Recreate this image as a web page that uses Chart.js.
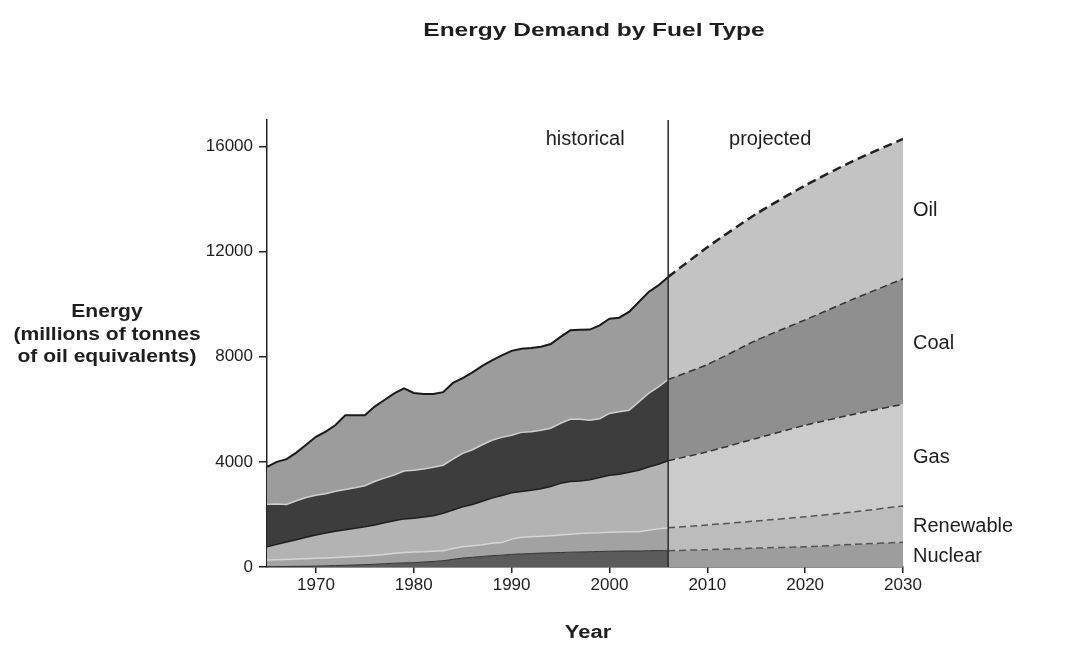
<!DOCTYPE html>
<html>
<head>
<meta charset="utf-8">
<title>Energy Demand by Fuel Type</title>
<script src="https://cdn.jsdelivr.net/npm/chart.js@4.4.1/dist/chart.umd.min.js"></script>
<style>
  body { margin: 0; background: #fff; }
  #chart-container { width: 1083px; height: 646px; }
</style>
</head>
<body>
<div id="chart-container"><canvas id="energy" width="1083" height="646"></canvas></div>
<script>
// values, millions of tonnes of oil equivalent
const fuels = ["Nuclear", "Renewable", "Gas", "Coal", "Oil"];

const histYears = [1965, 1966, 1967, 1968, 1969, 1970, 1971, 1972, 1973, 1974,
  1975, 1976, 1977, 1978, 1979, 1980, 1981, 1982, 1983, 1984,
  1985, 1986, 1987, 1988, 1989, 1990, 1991, 1992, 1993, 1994,
  1995, 1996, 1997, 1998, 1999, 2000, 2001, 2002, 2003, 2004,
  2005, 2006];
const histNuclear = [10, 15, 20, 25, 30, 35, 45, 55, 65, 75,
  90, 105, 125, 145, 155, 165, 190, 210, 240, 290,
  340, 370, 400, 430, 450, 480, 500, 510, 530, 540,
  550, 565, 570, 580, 590, 600, 605, 610, 605, 620,
  625, 620];
const histRenewable = [255, 260, 265, 275, 285, 295, 300, 305, 315, 325,
  330, 345, 355, 375, 395, 405, 390, 390, 380, 410,
  430, 440, 450, 470, 480, 580, 630, 640, 640, 650,
  670, 685, 700, 710, 710, 720, 725, 730, 735, 780,
  825, 870];
const histGas = [505, 585, 665, 740, 815, 885, 945, 1000, 1040, 1070,
  1110, 1150, 1200, 1240, 1280, 1280, 1320, 1350, 1420, 1470,
  1520, 1570, 1650, 1720, 1790, 1760, 1740, 1770, 1810, 1870,
  1960, 2000, 2000, 2030, 2100, 2170, 2200, 2260, 2340, 2400,
  2460, 2550];
const histCoal = [1620, 1540, 1430, 1480, 1510, 1515, 1500, 1520, 1530, 1540,
  1560, 1650, 1700, 1740, 1820, 1830, 1830, 1840, 1830, 1930,
  2030, 2080, 2150, 2200, 2210, 2190, 2250, 2220, 2220, 2220,
  2280, 2370, 2350, 2260, 2240, 2350, 2370, 2360, 2600, 2800,
  2940, 3090];
const histOil = [1420, 1600, 1720, 1830, 2010, 2220, 2360, 2520, 2820, 2760,
  2680, 2850, 2970, 3100, 3140, 2940, 2850, 2790, 2780, 2900,
  2860, 2940, 3000, 3040, 3120, 3210, 3180, 3190, 3180, 3200,
  3290, 3380, 3400, 3450, 3550, 3600, 3580, 3740, 3800, 3860,
  3860, 3900];

const projYears = [2006, 2010, 2015, 2020, 2025, 2030];
const projNuclear = [620, 660, 720, 770, 860, 940];
const projRenewable = [870, 940, 1030, 1140, 1240, 1380];
const projGas = [2550, 2780, 3140, 3480, 3710, 3870];
const projCoal = [3090, 3320, 3730, 4010, 4390, 4770];
const projOil = [3900, 4460, 4810, 5110, 5260, 5320];

const splitYear = 2006;
const xTicks = [1970, 1980, 1990, 2000, 2010, 2020, 2030];
const yTicks = [0, 4000, 8000, 12000, 16000];

const histLayers = [histNuclear, histRenewable, histGas, histCoal, histOil];
const projLayers = [projNuclear, projRenewable, projGas, projCoal, projOil];

const histFill = ["#5b5b5b", "#a2a2a2", "#b3b3b3", "#3d3d3d", "#9c9c9c"];
const histLine = ["#333333", "#d5d5d5", "#1e1e1e", "#d0d0d0", "#1a1a1a"];
const histWidth = [1, 1.5, 1.5, 1.5, 2];
const projFill = ["#9d9d9d", "#bcbcbc", "#cbcbcb", "#8f8f8f", "#c3c3c3"];
const projLine = ["#555555", "#555555", "#333333", "#333333", "#222222"];
const projWidth = [1.5, 1.5, 1.5, 1.5, 2.5];

const FONT = "'Liberation Sans', Arial, Helvetica, sans-serif";

function toPoints(years, values) {
  return years.map((yr, i) => ({ x: yr, y: values[i] }));
}

// the bold lettering in the picture runs wider than Arial, so stretch it a bit
function wideText(ctx, text, x, y, font, sx) {
  ctx.save();
  ctx.font = font;
  ctx.translate(x, y);
  ctx.scale(sx, 1);
  ctx.fillText(text, 0, 0);
  ctx.restore();
}

const datasets = [];
histLayers.forEach((layer, i) => {
  datasets.push({
    label: fuels[i] + " (historical)",
    stack: "hist",
    data: toPoints(histYears, layer),
    backgroundColor: histFill[i],
    borderColor: histLine[i],
    borderWidth: histWidth[i],
    fill: i === 0 ? "origin" : "-1",
    pointRadius: 0,
    tension: 0,
  });
});
projLayers.forEach((layer, i) => {
  datasets.push({
    label: fuels[i] + " (projected)",
    stack: "proj",
    data: toPoints(projYears, layer),
    backgroundColor: projFill[i],
    borderColor: projLine[i],
    borderWidth: projWidth[i],
    borderDash: i === 4 ? [9, 5] : [7, 4],
    fill: i === 0 ? "origin" : "-1",
    pointRadius: 0,
    tension: 0.2,
  });
});

// text and the 2006 divider
const decorations = {
  id: "decorations",
  afterDatasetsDraw(chart) {
    const { ctx, chartArea, scales } = chart;
    const x = scales.x;
    const y = scales.y;
    ctx.save();

    const xd = x.getPixelForValue(splitYear);
    ctx.strokeStyle = "#2a2a2a";
    ctx.lineWidth = 1.5;
    ctx.beginPath();
    ctx.moveTo(xd, chartArea.top);
    ctx.lineTo(xd, chartArea.bottom);
    ctx.stroke();

    ctx.fillStyle = "#1e1e1e";
    ctx.textBaseline = "middle";
    ctx.textAlign = "center";
    ctx.font = "20px " + FONT;
    ctx.fillText("historical", xd - 83, chartArea.top + 19);
    ctx.fillText("projected", xd + 102, chartArea.top + 19);

    // fuel names beside the last column
    ctx.textAlign = "left";
    const last = projYears.length - 1;
    let base = 0;
    projLayers.forEach((layer, i) => {
      const v = layer[last];
      ctx.fillText(fuels[i], chartArea.right + 10, y.getPixelForValue(base + v / 2) + 2);
      base += v;
    });

    ctx.textAlign = "center";
    wideText(ctx, "Energy Demand by Fuel Type", 594, 31, "bold 19px " + FONT, 1.29);
    wideText(ctx, "Energy", 107, 312, "bold 18px " + FONT, 1.17);
    wideText(ctx, "(millions of tonnes", 107, 335, "bold 18px " + FONT, 1.17);
    wideText(ctx, "of oil equivalents)", 107, 357, "bold 18px " + FONT, 1.17);
    wideText(ctx, "Year", 588, 633, "bold 18px " + FONT, 1.22);
    ctx.restore();
  },
};

new Chart(document.getElementById("energy").getContext("2d"), {
  type: "line",
  data: { datasets: datasets },
  options: {
    responsive: false,
    animation: false,
    layout: { padding: { left: 197, right: 180, top: 120, bottom: 39 } },
    plugins: {
      legend: { display: false },
      tooltip: { enabled: false },
      title: { display: false },
    },
    scales: {
      x: {
        type: "linear",
        min: 1965,
        max: 2030,
        afterBuildTicks: (scale) => {
          scale.ticks = xTicks.map((v) => ({ value: v }));
        },
        afterFit: (scale) => {
          scale.height = 40;
          scale.paddingLeft = 0;
          scale.paddingRight = 0;
        },
        ticks: {
          color: "#1e1e1e",
          font: { family: FONT, size: 17 },
          padding: 2,
          maxRotation: 0,
          callback: (v) => String(v),
        },
        grid: { drawOnChartArea: false, drawTicks: true, tickLength: 6, color: "#222", lineWidth: 1.5 },
        border: { color: "#222", width: 1.5 },
      },
      y: {
        stacked: true,
        min: 0,
        max: 17000,
        afterBuildTicks: (scale) => {
          scale.ticks = yTicks.map((v) => ({ value: v }));
        },
        afterFit: (scale) => {
          scale.width = 70;
        },
        ticks: {
          color: "#1e1e1e",
          font: { family: FONT, size: 17 },
          padding: 6,
          callback: (v) => String(v),
        },
        grid: { drawOnChartArea: false, drawTicks: true, tickLength: 8, color: "#222", lineWidth: 1.5 },
        border: { color: "#222", width: 1.5 },
      },
    },
  },
  plugins: [decorations],
});
</script>
</body>
</html>
